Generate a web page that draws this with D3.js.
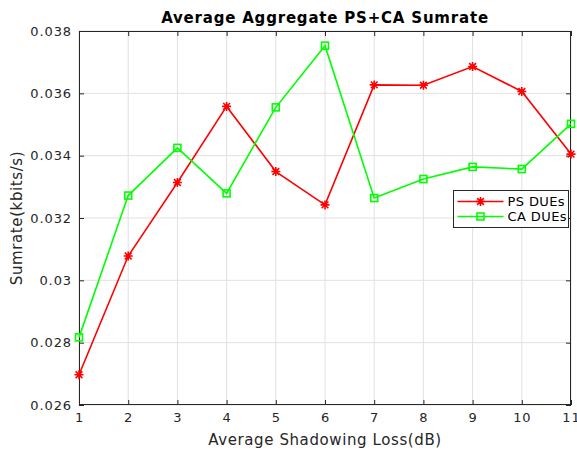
<!DOCTYPE html>
<html>
<head>
<meta charset="utf-8">
<script src="https://cdn.jsdelivr.net/npm/d3@7"></script>
<style>
  body { margin: 0; background: #fff; }
  text { font-family: "DejaVu Sans", sans-serif; }
</style>
</head>
<body>
<script>
var shadowLoss = [1, 2, 3, 4, 5, 6, 7, 8, 9, 10, 11];
var psDues = [0.02697, 0.03078, 0.03314, 0.03558, 0.03349, 0.03242, 0.03627, 0.03626, 0.03686, 0.03606, 0.03405];
var caDues = [0.02817, 0.03272, 0.03425, 0.03279, 0.03555, 0.03753, 0.03264, 0.03325, 0.03364, 0.03357, 0.03502];
var yTicks = [0.026, 0.028, 0.03, 0.032, 0.034, 0.036, 0.038];

var w = 577, h = 452;
var padL = 79, padR = 571, padT = 31, padB = 405;

var svg = d3.select("body").append("svg")
    .attr("width", w)
    .attr("height", h);

var x = d3.scaleLinear().domain([1, 11]).range([padL, padR]);
var y = d3.scaleLinear().domain([0.026, 0.038]).range([padB, padT]);

svg.append("rect")
    .attr("x", padL).attr("y", padT)
    .attr("width", padR - padL).attr("height", padB - padT)
    .style("fill", "#fff");

// grid
svg.append("g").selectAll("line").data(shadowLoss).enter().append("line")
    .attr("x1", function(d){ return x(d); }).attr("x2", function(d){ return x(d); })
    .attr("y1", padT).attr("y2", padB)
    .style("stroke", "#e1e1e1").style("stroke-width", 1);
svg.append("g").selectAll("line").data(yTicks).enter().append("line")
    .attr("x1", padL).attr("x2", padR)
    .attr("y1", function(d){ return y(d); }).attr("y2", function(d){ return y(d); })
    .style("stroke", "#e1e1e1").style("stroke-width", 1);

// axes
var fmt = function(d){ return String(+d.toFixed(3)); };
var styleAxis = function(g) {
  g.select(".domain").remove();
  g.selectAll("line").style("stroke", "#262626");
  g.selectAll("text").style("fill", "#262626").style("font-size", "13px")
    .style("letter-spacing", "0.9px")
    .style("font-family", "DejaVu Sans, sans-serif");
};
svg.append("g").attr("transform", "translate(0," + padB + ")")
    .call(d3.axisBottom(x).tickValues(shadowLoss).tickSize(-5).tickPadding(8))
    .call(styleAxis);
svg.append("g").attr("transform", "translate(0," + padT + ")")
    .call(d3.axisTop(x).tickValues(shadowLoss).tickSize(-5).tickFormat(""))
    .call(styleAxis);
svg.append("g").attr("transform", "translate(" + padL + ",0)")
    .call(d3.axisLeft(y).tickValues(yTicks).tickSize(-5).tickPadding(7).tickFormat(fmt))
    .call(styleAxis);
svg.append("g").attr("transform", "translate(" + padR + ",0)")
    .call(d3.axisRight(y).tickValues(yTicks).tickSize(-5).tickFormat(""))
    .call(styleAxis);

svg.append("rect")
    .attr("x", padL + 0.5).attr("y", padT + 0.5)
    .attr("width", padR - padL - 1).attr("height", padB - padT - 1)
    .style("fill", "none").style("stroke", "#262626").style("stroke-width", 1);

// series
var series = [
  { name: "PS DUEs", values: psDues, color: "#ff0000", marker: "star" },
  { name: "CA DUEs", values: caDues, color: "#00ff00", marker: "square" }
];

function drawMarker(g, type, color) {
  if (type === "star") {
    var s = 4.5;
    var p = "M" + (-s) + ",0H" + s + "M0," + (-s) + "V" + s +
            "M" + (-s*0.75) + "," + (-s*0.75) + "L" + (s*0.75) + "," + (s*0.75) +
            "M" + (-s*0.75) + "," + (s*0.75) + "L" + (s*0.75) + "," + (-s*0.75);
    g.append("path").attr("d", p).style("stroke", color).style("stroke-width", 1.6).style("fill", "none");
  } else {
    g.append("rect").attr("x", -3.5).attr("y", -3.5).attr("width", 7).attr("height", 7)
      .style("fill", "none").style("stroke", color).style("stroke-width", 1.6);
  }
}

var line = d3.line()
    .x(function(d, i){ return x(shadowLoss[i]); })
    .y(function(d){ return y(d); });

series.forEach(function(s) {
  svg.append("path").datum(s.values)
    .attr("d", line)
    .style("fill", "none").style("stroke", s.color).style("stroke-width", 1.6);
  svg.append("g").selectAll("g").data(s.values).enter().append("g")
    .attr("transform", function(d, i){ return "translate(" + x(shadowLoss[i]) + "," + y(d) + ")"; })
    .each(function(){ drawMarker(d3.select(this), s.marker, s.color); });
});

// legend
var lg = svg.append("g").attr("transform", "translate(453.5,190.5)");
lg.append("rect").attr("width", 115).attr("height", 37)
  .style("fill", "#fff").style("stroke", "#262626").style("stroke-width", 1);
series.forEach(function(s, i) {
  var ly = 11 + i * 15;
  lg.append("line").attr("x1", 4).attr("x2", 50).attr("y1", ly).attr("y2", ly)
    .style("stroke", s.color).style("stroke-width", 1.6);
  drawMarker(lg.append("g").attr("transform", "translate(27," + ly + ")"), s.marker, s.color);
  lg.append("text").attr("x", 54).attr("y", ly + 4.5).text(s.name)
    .style("font-size", "13px").style("letter-spacing", "0.4px").style("fill", "#000");
});

// labels
svg.append("text").attr("x", (padL + padR) / 2).attr("y", 23)
  .attr("text-anchor", "middle").text("Average Aggregate PS+CA Sumrate")
  .style("font-weight", "bold").style("font-size", "15px").style("letter-spacing", "0.8px")
  .style("fill", "#000");
svg.append("text").attr("x", (padL + padR) / 2).attr("y", 445)
  .attr("text-anchor", "middle").text("Average Shadowing Loss(dB)")
  .style("font-size", "15px").style("letter-spacing", "0.6px").style("fill", "#262626");
svg.append("text").attr("transform", "translate(22," + ((padT + padB) / 2) + ") rotate(-90)")
  .attr("text-anchor", "middle").text("Sumrate(kbits/s)")
  .style("font-size", "15px").style("letter-spacing", "0.6px").style("fill", "#262626");
</script>
</body>
</html>
